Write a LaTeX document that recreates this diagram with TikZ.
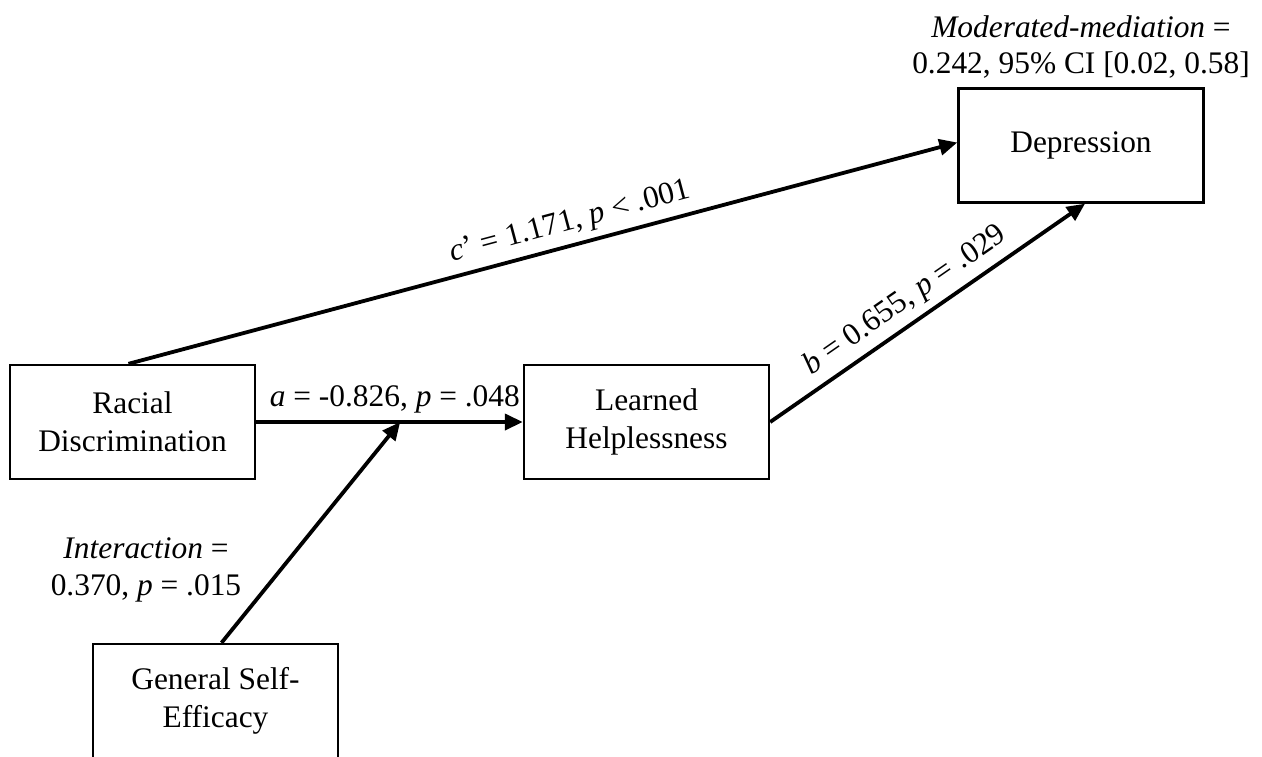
\documentclass[tikz,border=0pt]{standalone}
\usepackage{fontspec}
\setmainfont{Liberation Serif}
\usepackage{tikz}
\usetikzlibrary{arrows.meta,positioning,calc}

\begin{document}
\begin{tikzpicture}[x=0.5pt,y=-0.5pt,
    font=\fontsize{15.7pt}{18.8pt}\selectfont]
    \useasboundingbox (0,0) rectangle (1262,756);

    %Boxes
     \begin{scope}[every node/.style={draw,line width=1.2pt,align=center,
         minimum width=122.5pt,minimum height=57pt}]
       \node (rd) at (132.5,422) {Racial\\Discrimination};
       \node (lh) at (646.5,422) {Learned\\Helplessness};
       \node (dep) at (1081,145.5) {Depression};
       \node (gse) at (215.5,701) {General Self-\\Efficacy};
    \end{scope}

    \coordinate (mod) at ($(rd.east)!0.54!(lh.west)$);

    %Paths
    \begin{scope}[every edge/.style={draw,line width=1.9pt,
       -{Triangle[length=9pt,width=8pt]}}]
      \path (rd.east) edge node[above,pos=0.52] {\textit{a} = -0.826, \textit{p} = .048} (lh.west);
      \path ([xshift=-2pt]rd.north) edge node[above,sloped,pos=0.54] {\textit{c}’ = 1.171, \textit{p} < .001} ([yshift=1.5pt]dep.west);
      \path (lh.east) edge node[above,sloped,pos=0.47] {\textit{b} = 0.655, \textit{p} = .029} ([xshift=2pt]dep.south);
      \path ([xshift=3pt]gse.north) edge (mod);
    \end{scope}

    %Labels
    \node[align=center,font=\fontsize{15.7pt}{18pt}\selectfont] (modmed) at (1081,47) {\textit{Moderated-mediation} =\\0.242, 95\% CI [0.02, 0.58]};
    \node[align=center] (inter) at (146,570) {\textit{Interaction} =\\0.370, \textit{p} = .015};
  \end{tikzpicture}
\end{document}
